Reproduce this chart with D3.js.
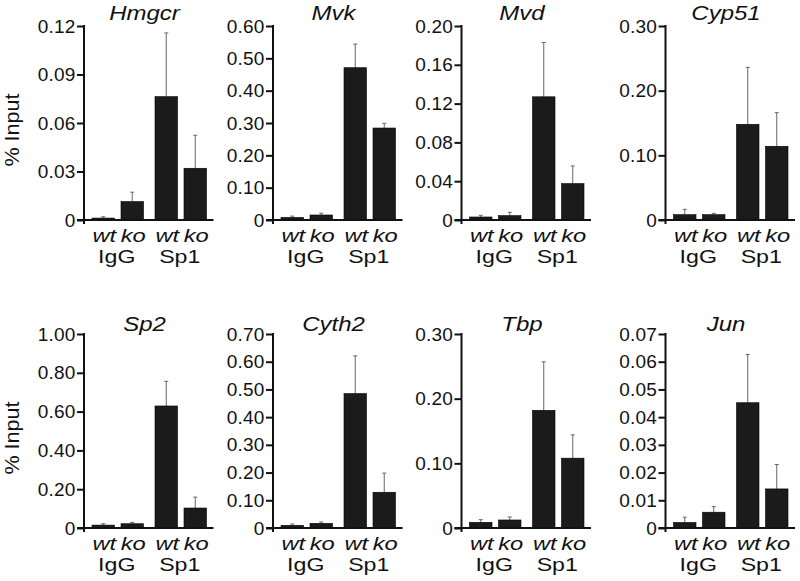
<!DOCTYPE html>
<html>
<head>
<meta charset="utf-8">
<script src="https://cdn.jsdelivr.net/npm/d3@7"></script>
<style>
  html, body { margin: 0; padding: 0; background: #fff; }
  svg { display: block; font-family: "Liberation Sans", Arial, Helvetica, sans-serif; }
</style>
</head>
<body>
<svg id="chart" width="800" height="581"></svg>
<script>
// ---- Data ----
const genes = ["Hmgcr", "Mvk", "Mvd", "Cyp51", "Sp2", "Cyth2", "Tbp", "Jun"];
const antibodies = ["IgG", "Sp1"];
const genotypes = ["wt", "ko"];
// order of values: IgG-wt, IgG-ko, Sp1-wt, Sp1-ko  (% Input, mean and upper SD)
const meanHmgcr = [0.0012, 0.0114, 0.0763, 0.0320];
const sdHmgcr   = [0.0008, 0.0058, 0.0394, 0.0204];
const meanMvk   = [0.008, 0.0155, 0.471, 0.2845];
const sdMvk     = [0.004, 0.0055, 0.073, 0.0145];
const meanMvd   = [0.0031, 0.0045, 0.127, 0.0375];
const sdMvd     = [0.0017, 0.0034, 0.056, 0.0182];
const meanCyp51 = [0.0082, 0.0082, 0.148, 0.114];
const sdCyp51   = [0.0083, 0.0021, 0.088, 0.052];
const meanSp2   = [0.015, 0.022, 0.629, 0.103];
const sdSp2     = [0.007, 0.007, 0.127, 0.056];
const meanCyth2 = [0.0096, 0.0168, 0.485, 0.129];
const sdCyth2   = [0.0048, 0.0049, 0.136, 0.069];
const meanTbp   = [0.0088, 0.0124, 0.182, 0.108];
const sdTbp     = [0.0041, 0.0046, 0.075, 0.036];
const meanJun   = [0.0020, 0.0057, 0.0452, 0.0141];
const sdJun     = [0.0019, 0.0020, 0.0174, 0.0088];
// y-axis tick values per panel
const ticksHmgcr = [0, 0.03, 0.06, 0.09, 0.12];
const ticksMvk   = [0, 0.10, 0.20, 0.30, 0.40, 0.50, 0.60];
const ticksMvd   = [0, 0.04, 0.08, 0.12, 0.16, 0.20];
const ticksCyp51 = [0, 0.10, 0.20, 0.30];
const ticksSp2   = [0, 0.20, 0.40, 0.60, 0.80, 1.00];
const ticksCyth2 = [0, 0.10, 0.20, 0.30, 0.40, 0.50, 0.60, 0.70];
const ticksTbp   = [0, 0.10, 0.20, 0.30];
const ticksJun   = [0, 0.01, 0.02, 0.03, 0.04, 0.05, 0.06, 0.07];
const yLabel = "% Input";

const means = [meanHmgcr, meanMvk, meanMvd, meanCyp51, meanSp2, meanCyth2, meanTbp, meanJun];
const sds   = [sdHmgcr, sdMvk, sdMvd, sdCyp51, sdSp2, sdCyth2, sdTbp, sdJun];
const ticks = [ticksHmgcr, ticksMvk, ticksMvd, ticksCyp51, ticksSp2, ticksCyth2, ticksTbp, ticksJun];

// ---- Layout ----
const axisXs = [84, 273, 461.5, 665.5];
const rowTop = [26, 334];
const plotH = 194;
const titleGap = [6.5, 3];
const groupSpan = [8, 122.5];
const baseEnd = 129.5;

const svg = d3.select("#chart");
const fmt = v => v === 0 ? "0" : d3.format(".2f")(v);

function stretchedText(g, x, y, txt, size, sx, italic) {
  return g.append("text")
    .attr("transform", `translate(${x},${y}) scale(${sx},1)`)
    .attr("text-anchor", "middle")
    .attr("font-size", size)
    .attr("font-style", italic ? "italic" : "normal")
    .attr("fill", "#111")
    .text(txt);
}

genes.forEach((gene, i) => {
  const row = Math.floor(i / 4), col = i % 4;
  const ax = axisXs[col];
  const top = rowTop[row];
  const zero = top + plotH;
  const tv = ticks[i];
  const y = d3.scaleLinear().domain([0, tv[tv.length - 1]]).range([zero, top]);
  const x0 = d3.scaleBand().domain(antibodies).range([ax + groupSpan[0], ax + groupSpan[1]]).paddingInner(0.1825).paddingOuter(0);
  const x1 = d3.scaleBand().domain(genotypes).range([0, x0.bandwidth()]).paddingInner(0.224).paddingOuter(0);

  const g = svg.append("g");

  // y axis
  const yAxis = d3.axisLeft(y).tickValues(tv).tickFormat(fmt).tickSize(7).tickPadding(1.5);
  const ag = g.append("g").attr("transform", `translate(${ax},0)`).call(yAxis);
  ag.select(".domain").remove();
  ag.selectAll(".tick line").attr("stroke", "#111").attr("stroke-width", 2);
  ag.selectAll(".tick text").attr("font-size", 19).attr("fill", "#111")
    .attr("font-family", "'Liberation Sans', Arial, sans-serif").attr("letter-spacing", 0.2);
  // vertical axis line
  g.append("line").attr("x1", ax).attr("x2", ax).attr("y1", y(tv[tv.length - 1]) - 1).attr("y2", zero + 4)
    .attr("stroke", "#111").attr("stroke-width", 2);

  // data
  const data = [];
  antibodies.forEach((ab, a) => genotypes.forEach((gt, k) => {
    const idx = a * 2 + k;
    data.push({ ab, gt, m: means[i][idx], s: sds[i][idx] });
  }));

  // error bars (upper only)
  const eg = g.append("g").attr("stroke", "#666").attr("stroke-width", 1);
  data.forEach(d => {
    const cx = x0(d.ab) + x1(d.gt) + x1.bandwidth() / 2;
    eg.append("line").attr("x1", cx).attr("x2", cx).attr("y1", y(d.m)).attr("y2", y(d.m + d.s));
    eg.append("line").attr("x1", cx - 2).attr("x2", cx + 2).attr("y1", y(d.m + d.s)).attr("y2", y(d.m + d.s));
  });

  // bars
  g.append("g").selectAll("rect").data(data).join("rect")
    .attr("x", d => x0(d.ab) + x1(d.gt))
    .attr("width", x1.bandwidth())
    .attr("y", d => y(d.m))
    .attr("height", d => zero - y(d.m))
    .attr("fill", "#1b1b1b")
    .attr("stroke", "#000").attr("stroke-width", 0.6);

  // baseline
  g.append("line").attr("x1", ax - 7).attr("x2", ax + baseEnd).attr("y1", zero).attr("y2", zero)
    .attr("stroke", "#111").attr("stroke-width", 2);

  // genotype labels
  data.forEach(d => {
    stretchedText(g, x0(d.ab) + x1(d.gt) + x1.bandwidth() / 2 + 1, zero + 21.5, d.gt, 19, 1.25, true);
  });
  // antibody labels
  antibodies.forEach(ab => {
    stretchedText(g, x0(ab) + x0.bandwidth() / 2 - 1, zero + 43, ab, 19, 1.22, false);
  });

  // title
  stretchedText(g, ax + 60.5, top - titleGap[row], gene, 20, 1.2, true);

  // y label on first column
  if (col === 0) {
    g.append("text").attr("transform", `translate(19,${zero - 90}) rotate(-90) scale(1.08,1)`)
      .attr("text-anchor", "middle").attr("font-size", 20).attr("fill", "#111").text(yLabel);
  }
});
</script>
</body>
</html>
